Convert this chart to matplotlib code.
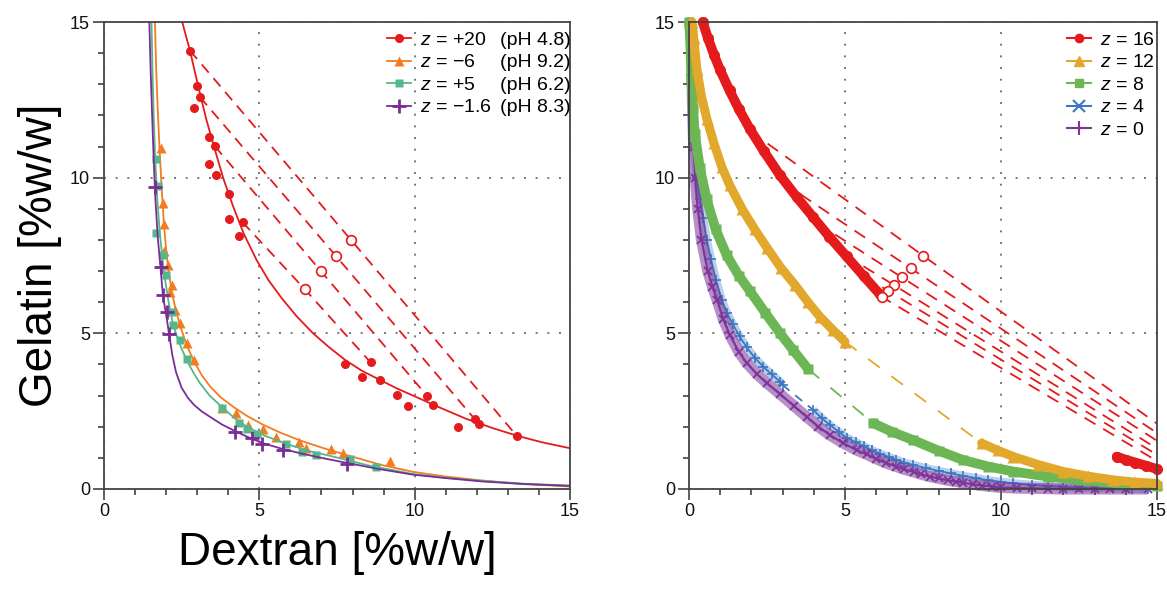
import matplotlib
matplotlib.use('Agg')
import matplotlib.pyplot as plt
from matplotlib.lines import Line2D
from matplotlib.transforms import IdentityTransform

plt.rcParams['font.family'] = ['Liberation Sans', 'DejaVu Sans']
plt.rcParams['mathtext.fontset'] = 'custom'
plt.rcParams['mathtext.it'] = 'Liberation Sans:italic'
plt.rcParams['mathtext.rm'] = 'Liberation Sans'

# ---------------- left panel: measured binodals ----------------
# z = +20 (pH 4.8)
red_cx = [2.52, 2.64, 2.77, 2.92, 3.09, 3.3, 3.57, 3.85, 4.16, 4.5, 4.91, 5.3, 5.72, 6.2, 6.73,
          7.25, 7.77, 8.3, 8.89, 9.45, 10.06, 10.8, 11.67, 12.5, 13.3, 14.1, 15.0]
red_cy = [15.0, 14.55, 14.08, 13.42, 12.7, 11.85, 10.9, 9.95, 9.07, 8.2, 7.36, 6.7, 6.13, 5.55, 5.0,
          4.55, 4.14, 3.8, 3.5, 3.22, 2.95, 2.62, 2.25, 1.96, 1.71, 1.5, 1.31]
red_px = [2.77, 2.98, 3.09, 2.90, 3.38, 3.57, 3.39, 3.60, 4.03, 4.03, 4.46, 4.35,
          7.77, 8.58, 8.30, 8.89, 9.43, 10.40, 9.80, 10.60, 11.93, 12.08, 11.39, 13.30]
red_py = [14.08, 12.96, 12.59, 12.23, 11.31, 11.01, 10.44, 10.08, 9.47, 8.67, 8.57, 8.14,
          4.03, 4.07, 3.60, 3.51, 3.02, 2.99, 2.68, 2.70, 2.25, 2.08, 1.98, 1.69]
tie_sx = [2.77, 3.09, 3.57, 4.46]
tie_sy = [14.08, 12.59, 11.01, 8.57]
tie_cx = [7.96, 7.47, 6.98, 6.47]
tie_cy = [7.99, 7.48, 7.00, 6.41]
tie_ex = [13.30, 11.93, 10.40, 8.58]
tie_ey = [1.69, 2.25, 2.99, 4.07]

# z = -6 (pH 9.2)
ora_cx = [1.64, 1.68, 1.73, 1.79, 1.86, 1.93, 2.0, 2.08, 2.18, 2.3, 2.45, 2.66, 2.9, 3.15, 3.41,
          3.75, 4.16, 4.6, 5.13, 5.7, 6.31, 7.1, 7.92, 8.9, 9.95, 11.0, 12.2, 13.5, 15.0]
ora_cy = [15.0, 13.5, 12.2, 10.9, 9.6, 8.5, 7.7, 7.0, 6.35, 5.8, 5.25, 4.62, 4.1, 3.65, 3.3,
          2.95, 2.64, 2.35, 2.06, 1.8, 1.56, 1.3, 1.06, 0.78, 0.55, 0.4, 0.27, 0.16, 0.08]
ora_px = [1.82, 1.89, 1.93, 1.94, 2.07, 2.18, 2.12, 2.28, 2.45, 2.66, 2.90, 3.79, 4.25, 4.65,
          5.13, 5.53, 6.28, 6.49, 7.31, 7.68, 9.21]
ora_py = [10.94, 9.18, 8.50, 7.66, 7.20, 6.55, 6.34, 5.75, 5.34, 4.68, 4.14, 2.61, 2.43, 2.06,
          1.93, 1.68, 1.52, 1.31, 1.27, 1.17, 0.90]

# z = +5 (pH 6.2)
grn_cx = [1.53, 1.56, 1.6, 1.65, 1.71, 1.79, 1.88, 1.97, 2.08, 2.2, 2.33, 2.5, 2.68, 2.9, 3.09,
          3.4, 3.81, 4.2, 4.59, 5.2, 5.87, 6.6, 7.38, 8.5, 9.95, 11.0, 12.2, 13.5, 15.0]
grn_cy = [15.0, 13.5, 12.0, 10.6, 9.4, 8.3, 7.4, 6.7, 6.0, 5.4, 4.95, 4.5, 4.1, 3.7, 3.4,
          3.0, 2.62, 2.28, 2.0, 1.7, 1.45, 1.22, 1.04, 0.76, 0.48, 0.36, 0.26, 0.17, 0.11]
grn_px = [1.66, 1.75, 1.69, 1.91, 2.0, 2.18, 2.23, 2.45, 2.68, 3.81, 4.36, 4.59, 4.94,
          5.87, 6.38, 6.84, 7.92, 8.75]
grn_py = [10.6, 9.74, 8.21, 7.52, 6.87, 5.70, 5.27, 4.79, 4.17, 2.59, 2.11, 1.92, 1.77,
          1.45, 1.20, 1.09, 0.96, 0.72]

# z = -1.6 (pH 8.3)
pur_cx = [1.46, 1.5, 1.55, 1.6, 1.65, 1.73, 1.82, 1.9, 2.0, 2.1, 2.2, 2.32, 2.5, 2.7, 2.9, 3.15,
          3.41, 3.8, 4.22, 4.65, 5.09, 5.7, 6.31, 7.0, 7.81, 8.8, 9.95, 11.0, 12.2, 13.5, 15.0]
pur_cy = [15.0, 13.5, 12.0, 10.6, 9.4, 8.1, 7.1, 6.2, 5.6, 4.95, 4.3, 3.75, 3.25, 2.93, 2.7, 2.49,
          2.32, 2.07, 1.86, 1.66, 1.48, 1.3, 1.15, 1.0, 0.84, 0.65, 0.46, 0.35, 0.24, 0.16, 0.1]
pur_px = [1.64, 1.82, 1.89, 2.02, 2.10, 4.22, 4.75, 5.09, 5.77, 7.81]
pur_py = [9.69, 7.12, 6.22, 5.70, 4.98, 1.82, 1.63, 1.45, 1.25, 0.79]

left_z = ['$z$ = +20', '$z$ = \u22126', '$z$ = +5', '$z$ = \u22121.6']
left_ph = ['(pH 4.8)', '(pH 9.2)', '(pH 6.2)', '(pH 8.3)']

# ---------------- right panel: model binodals ----------------
r16_ux = [0.44, 0.6, 0.8, 1.0, 1.3, 1.6, 1.96, 2.4, 2.92, 3.45, 3.98, 4.5, 5.05, 5.6, 6.12]
r16_uy = [15.0, 14.5, 13.95, 13.45, 12.8, 12.2, 11.55, 10.85, 10.07, 9.38, 8.73, 8.1, 7.47, 6.84, 6.25]
r16_lx = [13.71, 14.0, 14.3, 14.65, 15.0]
r16_ly = [1.04, 0.94, 0.85, 0.75, 0.64]
r16_sx = [1.96, 3.0, 4.1, 5.0, 5.6, 6.12]
r16_sy = [11.5, 9.85, 8.55, 7.52, 6.84, 6.21]
r16_cx = [7.51, 7.11, 6.82, 6.57, 6.39, 6.20]
r16_cy = [7.49, 7.09, 6.80, 6.55, 6.36, 6.16]
r16_ex = [15.0, 15.0, 15.0, 15.0, 15.0, 15.0]
r16_ey = [2.1, 1.8, 1.55, 1.3, 1.1, 0.9]

r12_ux = [0.10, 0.15, 0.25, 0.4, 0.57, 0.8, 1.05, 1.31, 1.7, 2.1, 2.5, 2.95, 3.4, 3.8, 4.2, 4.6, 5.0]
r12_uy = [15.0, 14.5, 13.5, 12.6, 11.9, 11.1, 10.35, 9.75, 9.0, 8.35, 7.75, 7.1, 6.55, 6.02, 5.53, 5.12, 4.73]
r12_lx = [9.38, 9.9, 10.4, 11.2, 12.0, 12.8, 13.6, 14.3, 15.0]
r12_ly = [1.47, 1.24, 1.04, 0.78, 0.56, 0.41, 0.29, 0.22, 0.18]

r8_ux = [0.0, 0.03, 0.08, 0.12, 0.19, 0.35, 0.57, 0.85, 1.21, 1.6, 1.96, 2.45, 2.92, 3.34, 3.82]
r8_uy = [15.0, 14.6, 13.2, 12.2, 11.4, 10.3, 9.3, 8.35, 7.5, 6.85, 6.35, 5.65, 5.0, 4.46, 3.85]
r8_lx = [5.91, 6.5, 7.19, 8.0, 8.79, 9.6, 10.4, 11.5, 12.53, 13.8, 15.0]
r8_ly = [2.11, 1.84, 1.57, 1.23, 0.93, 0.72, 0.56, 0.4, 0.29, 0.17, 0.1]

r4_ux = [0.03, 0.06, 0.1, 0.16, 0.25, 0.35, 0.45, 0.57, 0.7, 0.87, 1.05, 1.22, 1.4, 1.62, 1.85,
         2.1, 2.38, 2.65, 2.92, 3.0]
r4_uy = [14.7, 13.3, 12.0, 11.0, 10.0, 9.3, 8.7, 8.0, 7.4, 6.7, 6.07, 5.65, 5.3, 4.9, 4.55,
         4.22, 3.93, 3.68, 3.45, 3.34]
r4_lx = [3.98, 4.25, 4.52, 4.8, 5.05, 5.35, 5.6, 5.85, 6.12, 6.4, 6.65, 6.9, 7.19, 7.6, 8.0, 8.4,
         8.79, 9.2, 9.6, 10.0, 10.4, 11.0, 11.5, 12.0, 12.5, 13.0, 13.6, 14.2, 14.7]
r4_ly = [2.54, 2.28, 2.05, 1.84, 1.65, 1.5, 1.38, 1.25, 1.14, 1.03, 0.94, 0.85, 0.77, 0.67, 0.58, 0.5,
         0.42, 0.35, 0.28, 0.23, 0.18, 0.13, 0.1, 0.07, 0.05, 0.03, 0.02, 0.01, 0.0]

r0_x = [0.1, 0.1, 0.12, 0.15, 0.2, 0.28, 0.4, 0.6, 0.75, 0.9, 1.1, 1.31, 1.6, 1.85, 2.17, 2.5,
        2.92, 3.35, 3.77, 4.15, 4.52, 4.95, 5.37, 5.7, 6.0, 6.3, 6.65, 6.9, 7.2, 7.45, 7.72, 8.0,
        8.3, 8.55, 8.79, 9.1, 9.4, 9.7, 10.0, 10.5, 11.0, 11.5, 12.0, 12.5, 13.0, 13.5, 14.0, 14.7]
r0_y = [14.4, 13.0, 12.0, 11.0, 10.0, 9.0, 8.0, 7.0, 6.5, 6.07, 5.45, 4.95, 4.4, 4.05, 3.7, 3.4,
        3.05, 2.68, 2.32, 2.0, 1.73, 1.47, 1.25, 1.11, 0.97, 0.84, 0.72, 0.63, 0.55, 0.47, 0.40, 0.34,
        0.28, 0.24, 0.2, 0.15, 0.11, 0.08, 0.05, 0.03, 0.02, 0.01, 0.0, 0.0, 0.0, 0.0, 0.0, 0.0]

right_z = ['$z$ = 16', '$z$ = 12', '$z$ = 8', '$z$ = 4', '$z$ = 0']

L_RED, L_ORA, L_GRN, L_PUR = '#e41a1c', '#f47b20', '#55b88b', '#7a2d96'
R_RED, R_ORA, R_GRN, R_BLU, R_PUR = '#e41a1c', '#e2a82c', '#6cb655', '#3b78c3', '#7d3599'

fig = plt.figure(figsize=(11.67, 5.90), dpi=100)
axL = fig.add_axes([0.0891, 0.1712, 0.3993, 0.7915])
axR = fig.add_axes([0.5904, 0.1712, 0.4010, 0.7915])


def style(ax):
    ax.set_xlim(0, 15)
    ax.set_ylim(0, 15)
    ax.set_xticks([0, 5, 10, 15])
    ax.set_yticks([0, 5, 10, 15])
    ax.set_xticks(range(16), minor=True)
    ax.set_yticks(range(16), minor=True)
    ax.tick_params(which='major', length=8, width=1.1, pad=2, labelsize=13,
                   color='#333', labelcolor='#111')
    ax.tick_params(which='minor', length=4.5, width=1.1, color='#333')
    for s in ax.spines.values():
        s.set_color('#444')
        s.set_linewidth(1.3)
    ax.grid(which='major', color='#777', lw=1.4, ls=(0, (1, 5)))
    ax.set_axisbelow(True)


style(axL)
style(axR)

# ---- left ----
hl = []
for cx, cy, px, py, col, mk, ms in [
        (red_cx, red_cy, red_px, red_py, L_RED, 'o', 6.5),
        (ora_cx, ora_cy, ora_px, ora_py, L_ORA, '^', 7),
        (grn_cx, grn_cy, grn_px, grn_py, L_GRN, 's', 6),
        (pur_cx, pur_cy, pur_px, pur_py, L_PUR, '+', 10)]:
    ln, = axL.plot(cx, cy, color=col, lw=1.3)
    pt, = axL.plot(px, py, mk, color=col, ms=ms, mec=col if mk == '+' else 'none', mew=2)
    hl.append((ln, pt))

for i in range(len(tie_sx)):
    axL.plot([tie_sx[i], tie_cx[i], tie_ex[i]], [tie_sy[i], tie_cy[i], tie_ey[i]],
             color=L_RED, lw=1.3, dashes=(6, 4))
axL.plot(tie_cx, tie_cy, 'o', mfc='white', mec=L_RED, mew=1.2, ms=7)

legL = axL.legend(hl, left_z, loc='upper left', bbox_to_anchor=(0.607, 0.98),
                  frameon=False, fontsize=14, handlelength=1.25, handletextpad=0.45,
                  labelspacing=0.25, borderpad=0, borderaxespad=0)

axL.set_ylabel('Gelatin [%w/w]', fontsize=33, labelpad=6)
axL.set_xlabel('Dextran [%w/w]', fontsize=33, labelpad=8)

# ---- right ----
for i in range(len(r16_sx)):
    axR.plot([r16_sx[i], r16_cx[i], r16_ex[i]], [r16_sy[i], r16_cy[i], r16_ey[i]],
             color=R_RED, lw=1.3, dashes=(7, 5))
axR.plot(r16_cx, r16_cy, 'o', mfc='white', mec=R_RED, mew=1.2, ms=7, zorder=4)

# tie lines of lower z
axR.plot([r12_ux[-1], r12_lx[0]], [r12_uy[-1], r12_ly[0]], color=R_ORA, lw=1.3, dashes=(8, 8))
axR.plot([r8_ux[-1], r8_lx[0]], [r8_uy[-1], r8_ly[0]], color=R_GRN, lw=1.3, dashes=(8, 8))
axR.plot([r4_ux[-1], r4_lx[0]], [r4_uy[-1], r4_ly[0]], color=R_BLU, lw=1.3, dashes=(5, 4))

# z = 4 (under), z = 0 (dense crosses over a translucent band)
for xs, ys in [(r4_ux, r4_uy), (r4_lx, r4_ly)]:
    axR.plot(xs, ys, color=R_BLU, lw=6, alpha=0.35, clip_on=False, solid_capstyle='butt')
    axR.plot(xs, ys, '+-', color=R_BLU, lw=1.3, ms=7, mew=1.2, clip_on=False)
axR.plot(r0_x, r0_y, color=R_PUR, lw=8, alpha=0.55, clip_on=False, solid_capstyle='butt')
axR.plot(r0_x, r0_y, 'x-', color=R_PUR, lw=1.6, ms=6, mew=1.3, clip_on=False)
# z = 8, 12, 16 thick branches
for xs, ys, col, mk, ms, lw in [
        (r8_ux, r8_uy, R_GRN, 's', 7.5, 7), (r8_lx, r8_ly, R_GRN, 's', 7.5, 7),
        (r12_ux, r12_uy, R_ORA, '^', 9, 6.5), (r12_lx, r12_ly, R_ORA, '^', 9, 6.5),
        (r16_ux, r16_uy, R_RED, 'o', 8, 7), (r16_lx, r16_ly, R_RED, 'o', 8, 7)]:
    axR.plot(xs, ys, color=col, lw=lw, solid_capstyle='round', clip_on=False)
    axR.plot(xs, ys, mk, color=col, ms=ms, mec='none', clip_on=False)

hr = [Line2D([], [], color=c, marker=m, lw=1.5, ms=ms, mew=mw) for c, m, ms, mw in
      [(R_RED, 'o', 6, 1), (R_ORA, '^', 7, 1), (R_GRN, 's', 6, 1), (R_BLU, 'x', 8, 1.5),
       (R_PUR, '+', 10, 1.5)]]
axR.legend(hr, right_z, loc='upper left', bbox_to_anchor=(0.808, 0.98),
           frameon=False, fontsize=14, handlelength=1.25, handletextpad=0.45,
           labelspacing=0.25, borderpad=0, borderaxespad=0)

# pH column aligned next to the widest z label
fig.canvas.draw()
rend = fig.canvas.get_renderer()
texts = legL.get_texts()
x0 = max(t.get_window_extent(rend).x1 for t in texts) + 8
for t, ph in zip(texts, left_ph):
    _, yb = t.get_transform().transform(t.get_position())
    fig.text(x0, yb, ph, transform=IdentityTransform(), va='baseline', ha='left', fontsize=14)

fig.savefig('out.png', dpi=100)
